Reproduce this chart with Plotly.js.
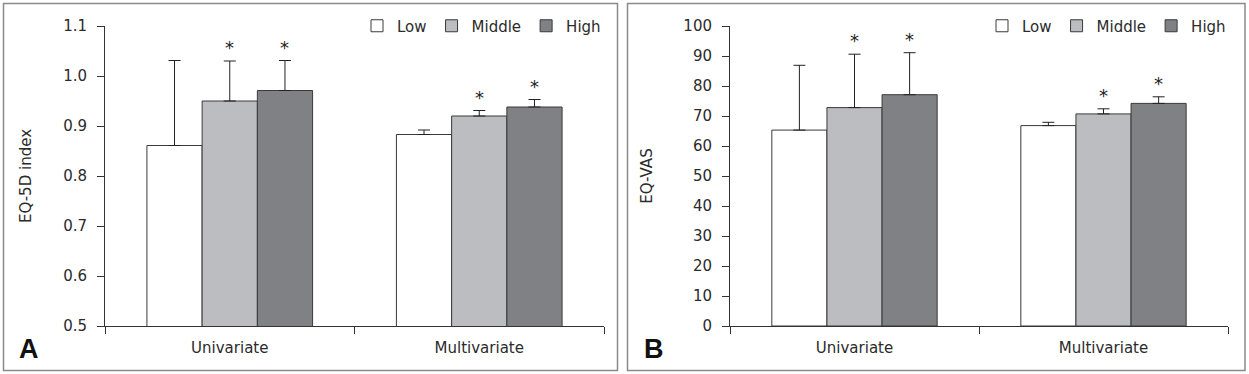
<!DOCTYPE html>
<html>
<head>
<meta charset="utf-8">
<script src="https://cdn.plot.ly/plotly-3.0.1.min.js"></script>
<style>html,body{margin:0;padding:0;background:#fff;}#chart{width:1249px;height:374px;}</style>
</head>
<body>
<div id="chart"></div>
<script>
// ---- data ----
const categories = ['Univariate', 'Multivariate'];
const groupNames = ['Low', 'Middle', 'High'];
const groupColors = ['#ffffff', '#bcbdc0', '#808184'];

// Panel A: EQ-5D index (mean, upper error)
const eq5dLow = [0.861, 0.883];
const eq5dMiddle = [0.950, 0.920];
const eq5dHigh = [0.971, 0.938];
const eq5dLowErr = [0.170, 0.009];
const eq5dMiddleErr = [0.080, 0.011];
const eq5dHighErr = [0.060, 0.015];

// Panel B: EQ-VAS (mean, upper error)
const vasLow = [65.3, 66.8];
const vasMiddle = [72.8, 70.7];
const vasHigh = [77.1, 74.2];
const vasLowErr = [21.6, 1.1];
const vasMiddleErr = [17.8, 1.7];
const vasHighErr = [14.0, 2.2];

// significance markers (*) per group
const sigLow = [false, false];
const sigMiddle = [true, true];
const sigHigh = [true, true];

const yTicksA = [0.5, 0.6, 0.7, 0.8, 0.9, 1.0, 1.1];
const yTicksB = [0, 10, 20, 30, 40, 50, 60, 70, 80, 90, 100];

// ---- layout geometry ----
const W = 1249, H = 374;
const domA = [105 / W, 604 / W];
const domB = [730 / W, 1228 / W];
const domY = [1 - 326 / H, 1 - 26 / H];
const BARGAP = 0.336;
const FONT = 'DejaVu Sans, sans-serif';
const TXT = '#2b2b2b';

const meansA = [eq5dLow, eq5dMiddle, eq5dHigh];
const errsA = [eq5dLowErr, eq5dMiddleErr, eq5dHighErr];
const meansB = [vasLow, vasMiddle, vasHigh];
const errsB = [vasLowErr, vasMiddleErr, vasHighErr];
const sigs = [sigLow, sigMiddle, sigHigh];

const traces = [];
function addPanel(means, errs, xa, ya, legendId) {
  groupNames.forEach((g, i) => {
    traces.push({
      type: 'bar', name: g, x: categories, y: means[i],
      xaxis: xa, yaxis: ya, legend: legendId,
      marker: {color: groupColors[i], line: {color: '#3a3a3a', width: 1}},
      error_y: {type: 'data', symmetric: false, array: errs[i],
                arrayminus: errs[i].map(() => 0),
                color: '#222', thickness: 1, width: 6},
      hoverinfo: 'skip'
    });
  });
}
addPanel(meansA, errsA, 'x', 'y', 'legend');
addPanel(meansB, errsB, 'x2', 'y2', 'legend2');

// asterisks above significant error bars
const annotations = [];
function addStars(means, errs, dom, xref, yref) {
  const axisPx = (dom[1] - dom[0]) * W;
  const barPx = (axisPx / categories.length) * (1 - BARGAP) / groupNames.length;
  groupNames.forEach((g, i) => {
    categories.forEach((c, j) => {
      if (!sigs[i][j]) return;
      annotations.push({
        x: c, y: means[i][j] + errs[i][j], xref: xref, yref: yref,
        xshift: (i - 1) * barPx, yshift: 1,
        text: '*', showarrow: false, yanchor: 'bottom',
        font: {family: FONT, size: 18, color: '#222'}
      });
    });
  });
}
addStars(meansA, errsA, domA, 'x', 'y');
addStars(meansB, errsB, domB, 'x2', 'y2');

annotations.push({text: '<b>A</b>', xref: 'paper', yref: 'paper', x: 17 / W, y: 1 - 349 / H,
  xanchor: 'left', yanchor: 'middle', showarrow: false,
  font: {family: 'Liberation Sans, Arial, sans-serif', size: 27, color: '#111'}});
annotations.push({text: '<b>B</b>', xref: 'paper', yref: 'paper', x: 642 / W, y: 1 - 349 / H,
  xanchor: 'left', yanchor: 'middle', showarrow: false,
  font: {family: 'Liberation Sans, Arial, sans-serif', size: 27, color: '#111'}});

const xAxisBase = {
  type: 'category', showline: true, linecolor: '#333', linewidth: 1,
  ticks: 'outside', tickson: 'boundaries', ticklen: 7, tickcolor: '#333',
  showgrid: false, zeroline: false, anchor: null, fixedrange: true,
  tickfont: {family: FONT, size: 15, color: TXT}, ticklabelstandoff: 8
};
const yAxisBase = {
  showline: true, linecolor: '#333', linewidth: 1, ticks: 'outside', ticklen: 7,
  tickcolor: '#333', showgrid: false, zeroline: false, fixedrange: true,
  tickfont: {family: FONT, size: 15, color: TXT}, ticklabelstandoff: 7
};

const layout = {
  width: W, height: H,
  margin: {l: 0, r: 0, t: 0, b: 0},
  paper_bgcolor: '#fff', plot_bgcolor: '#fff',
  barmode: 'group', bargap: BARGAP, bargroupgap: 0,
  font: {family: FONT, color: TXT},
  xaxis: Object.assign({}, xAxisBase, {domain: domA, anchor: 'y'}),
  xaxis2: Object.assign({}, xAxisBase, {domain: domB, anchor: 'y2'}),
  yaxis: Object.assign({}, yAxisBase, {domain: domY, anchor: 'x', range: [0.5, 1.1],
    tickvals: yTicksA, ticktext: yTicksA.map(v => v.toFixed(1)),
    title: {text: 'EQ-5D index', standoff: 27, font: {family: FONT, size: 15, color: TXT}}}),
  yaxis2: Object.assign({}, yAxisBase, {domain: domY, anchor: 'x2', range: [0, 100],
    tickvals: yTicksB,
    title: {text: 'EQ-VAS', standoff: 27, font: {family: FONT, size: 15, color: TXT}}}),
  legend: {orientation: 'h', x: 606 / W, y: 1 - 26 / H, xanchor: 'right', yanchor: 'middle',
    font: {family: FONT, size: 15, color: TXT}, bgcolor: 'rgba(0,0,0,0)', traceorder: 'normal'},
  legend2: {orientation: 'h', x: 1231 / W, y: 1 - 26 / H, xanchor: 'right', yanchor: 'middle',
    font: {family: FONT, size: 15, color: TXT}, bgcolor: 'rgba(0,0,0,0)', traceorder: 'normal'},
  shapes: [
    {type: 'rect', xref: 'paper', yref: 'paper', x0: 3.5 / W, x1: 617.5 / W, y0: 1 - 370.5 / H, y1: 1 - 3.5 / H,
     line: {color: '#8a8a8a', width: 1.5}},
    {type: 'rect', xref: 'paper', yref: 'paper', x0: 627.5 / W, x1: 1245 / W, y0: 1 - 370.5 / H, y1: 1 - 3.5 / H,
     line: {color: '#8a8a8a', width: 1.5}}
  ],
  annotations: annotations
};

Plotly.newPlot('chart', traces, layout, {displayModeBar: false, staticPlot: true});
</script>
</body>
</html>
